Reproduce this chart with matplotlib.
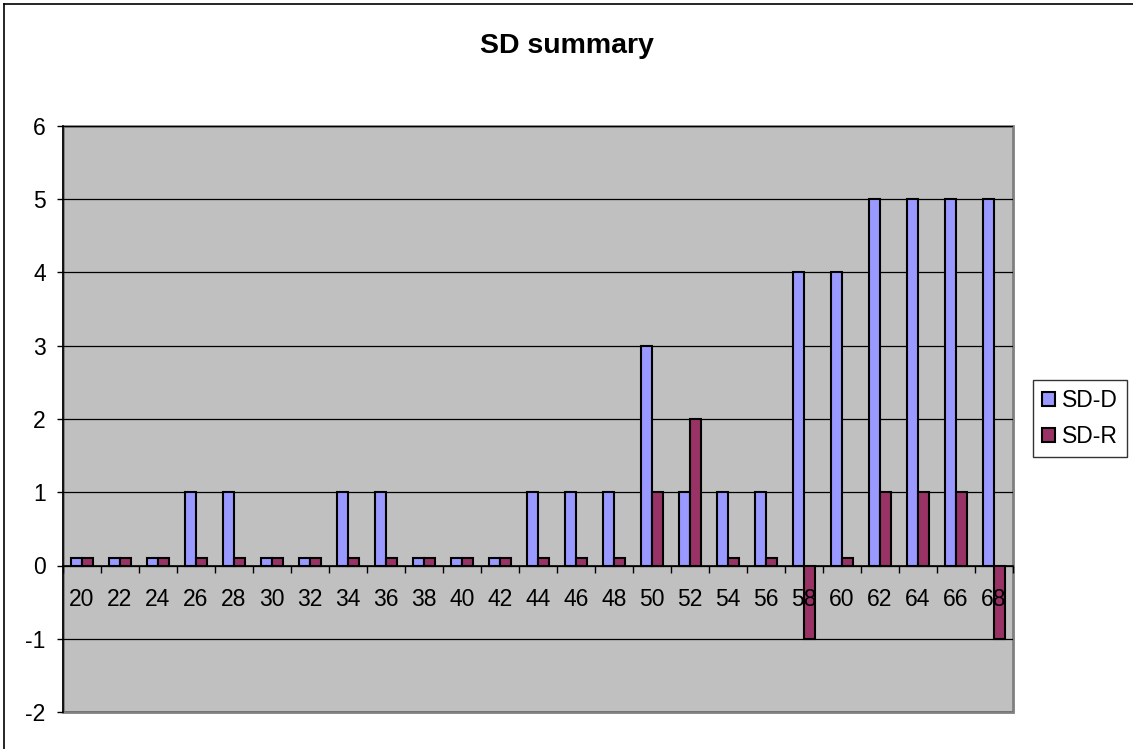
import matplotlib
matplotlib.use("Agg")
import matplotlib.pyplot as plt
from matplotlib.patches import Rectangle
from matplotlib.lines import Line2D
import numpy as np

plt.rcParams['font.family'] = ['Liberation Sans', 'DejaVu Sans']
plt.rcParams['axes.unicode_minus'] = False

# chart data
categories = ['20', '22', '24', '26', '28', '30', '32', '34', '36', '38', '40', '42', '44',
              '46', '48', '50', '52', '54', '56', '58', '60', '62', '64', '66', '68']
sd_d = [0.1, 0.1, 0.1, 1, 1, 0.1, 0.1, 1, 1, 0.1, 0.1, 0.1, 1,
        1, 1, 3, 1, 1, 1, 4, 4, 5, 5, 5, 5]
sd_r = [0.1, 0.1, 0.1, 0.1, 0.1, 0.1, 0.1, 0.1, 0.1, 0.1, 0.1, 0.1, 0.1,
        0.1, 0.1, 1, 2, 0.1, 0.1, -1, 0.1, 1, 1, 1, -1]
y_ticks = [-2, -1, 0, 1, 2, 3, 4, 5, 6]

W, H = 1133, 749
fig = plt.figure(figsize=(W / 100, H / 100), dpi=100)

# outer chart border (only left and top fall inside the picture)
fig.lines.append(Line2D([3.5 / W, 3.5 / W], [0, 1 - 3.5 / H], transform=fig.transFigure,
                        color='black', linewidth=1.2))
fig.lines.append(Line2D([3.5 / W, 1], [1 - 3.5 / H, 1 - 3.5 / H], transform=fig.transFigure,
                        color='black', linewidth=1.2))

ax = fig.add_axes([63 / W, (H - 712) / H, 950 / W, 586 / H])
ax.set_facecolor('#C0C0C0')

x = np.arange(len(categories))
bw = 0.29
ax.bar(x - bw / 2, sd_d, bw, color='#9999FF', edgecolor='black', linewidth=1.5, label='SD-D', zorder=3)
ax.bar(x + bw / 2, sd_r, bw, color='#993366', edgecolor='black', linewidth=1.5, label='SD-R', zorder=3)

ax.set_xlim(-0.5, len(categories) - 0.5)
ax.set_ylim(-2, 6)
ax.set_yticks(y_ticks)
ax.yaxis.grid(True, color='black', linewidth=0.9, zorder=1)
ax.set_axisbelow(True)

# plot area frame: gray top/right/bottom, black left, x axis at zero
for s in ['top', 'right']:
    ax.spines[s].set_visible(False)
ax.add_patch(Rectangle((0, 0), 1, 1, transform=ax.transAxes, fill=False,
                       edgecolor='#808080', linewidth=2, zorder=0.5, clip_on=False))
ax.spines['left'].set_color('black')
ax.spines['left'].set_linewidth(1.2)
ax.spines['left'].set_zorder(4)
ax.spines['bottom'].set_position(('data', 0))
ax.spines['bottom'].set_color('black')
ax.spines['bottom'].set_linewidth(1.2)
ax.spines['bottom'].set_zorder(4)
ax.xaxis.set_zorder(5)

ax.set_xticks(x)
ax.set_xticklabels(categories)
ax.set_xticks(np.arange(-0.5, len(categories), 1), minor=True)
ax.tick_params(axis='x', which='major', length=0, pad=16, labelsize=16.5)
ax.tick_params(axis='x', which='minor', length=5, direction='out', width=1)
ax.tick_params(axis='y', length=4.5, width=1, pad=8, labelsize=16.5)

fig.text(567 / W, 1 - 46 / H, 'SD summary', ha='center', va='center',
         fontsize=20.5, fontweight='bold')

fig.legend(loc='upper left', bbox_to_anchor=(1033 / W, 1 - 380 / H), fontsize=16.5,
           fancybox=False, edgecolor='#333333', framealpha=1, borderaxespad=0,
           handlelength=0.55, handleheight=0.55, handletextpad=0.3,
           borderpad=0.4, labelspacing=0.55)

fig.savefig('out.png', dpi=100)
